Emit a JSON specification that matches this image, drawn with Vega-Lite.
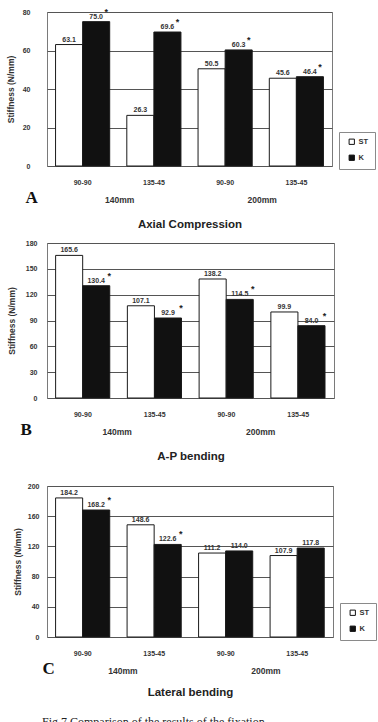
{
  "$schema": "https://vega.github.io/schema/vega-lite/v6.json",
  "background": "white",
  "padding": {"left": 5, "top": 7, "right": 0, "bottom": 0},
  "datasets": {
    "stiffness": [
      {"panel": "A", "len": "140mm", "grp": "140mm 90-90", "series": "ST", "v": 63.1, "sig": ""},
      {"panel": "A", "len": "140mm", "grp": "140mm 90-90", "series": "K", "v": 75.0, "sig": "*"},
      {"panel": "A", "len": "140mm", "grp": "140mm 135-45", "series": "ST", "v": 26.3, "sig": ""},
      {"panel": "A", "len": "140mm", "grp": "140mm 135-45", "series": "K", "v": 69.6, "sig": "*"},
      {"panel": "A", "len": "200mm", "grp": "200mm 90-90", "series": "ST", "v": 50.5, "sig": ""},
      {"panel": "A", "len": "200mm", "grp": "200mm 90-90", "series": "K", "v": 60.3, "sig": "*"},
      {"panel": "A", "len": "200mm", "grp": "200mm 135-45", "series": "ST", "v": 45.6, "sig": ""},
      {"panel": "A", "len": "200mm", "grp": "200mm 135-45", "series": "K", "v": 46.4, "sig": "*"},
      {"panel": "B", "len": "140mm", "grp": "140mm 90-90", "series": "ST", "v": 165.6, "sig": ""},
      {"panel": "B", "len": "140mm", "grp": "140mm 90-90", "series": "K", "v": 130.4, "sig": "*"},
      {"panel": "B", "len": "140mm", "grp": "140mm 135-45", "series": "ST", "v": 107.1, "sig": ""},
      {"panel": "B", "len": "140mm", "grp": "140mm 135-45", "series": "K", "v": 92.9, "sig": "*"},
      {"panel": "B", "len": "200mm", "grp": "200mm 90-90", "series": "ST", "v": 138.2, "sig": ""},
      {"panel": "B", "len": "200mm", "grp": "200mm 90-90", "series": "K", "v": 114.5, "sig": "*"},
      {"panel": "B", "len": "200mm", "grp": "200mm 135-45", "series": "ST", "v": 99.9, "sig": ""},
      {"panel": "B", "len": "200mm", "grp": "200mm 135-45", "series": "K", "v": 84.0, "sig": "*"},
      {"panel": "C", "len": "140mm", "grp": "140mm 90-90", "series": "ST", "v": 184.2, "sig": ""},
      {"panel": "C", "len": "140mm", "grp": "140mm 90-90", "series": "K", "v": 168.2, "sig": "*"},
      {"panel": "C", "len": "140mm", "grp": "140mm 135-45", "series": "ST", "v": 148.6, "sig": ""},
      {"panel": "C", "len": "140mm", "grp": "140mm 135-45", "series": "K", "v": 122.6, "sig": "*"},
      {"panel": "C", "len": "200mm", "grp": "200mm 90-90", "series": "ST", "v": 111.2, "sig": ""},
      {"panel": "C", "len": "200mm", "grp": "200mm 90-90", "series": "K", "v": 114.0, "sig": ""},
      {"panel": "C", "len": "200mm", "grp": "200mm 135-45", "series": "ST", "v": 107.9, "sig": ""},
      {"panel": "C", "len": "200mm", "grp": "200mm 135-45", "series": "K", "v": 117.8, "sig": ""}
    ]
  },
  "config": {
    "font": "Liberation Sans",
    "view": {"stroke": "#7a7a7a", "strokeWidth": 1},
    "axis": {
      "labelFont": "Liberation Sans",
      "labelFontSize": 7,
      "labelFontWeight": "bold",
      "labelColor": "#333333",
      "titleFont": "Liberation Sans",
      "titleColor": "#333333",
      "ticks": false,
      "domain": false,
      "gridColor": "#555555",
      "gridWidth": 1,
      "gridOpacity": 1
    },
    "legend": {
      "orient": "none",
      "strokeColor": "#8a8a8a",
      "padding": 6,
      "symbolOffset": 3,
      "symbolType": "square",
      "symbolSize": 28,
      "symbolStrokeColor": "#111111",
      "symbolStrokeWidth": 1,
      "labelFont": "Liberation Sans",
      "labelFontSize": 7.5,
      "labelFontWeight": "bold",
      "labelColor": "#333333",
      "labelOffset": 3,
      "rowPadding": 6
    }
  },
  "spacing": 18,
  "vconcat": [
    {
      "spacing": 7,
      "vconcat": [
        {
          "width": 285,
          "height": 154,
          "data": {"name": "stiffness"},
          "transform": [{"filter": "datum.panel === 'A'"}],
          "layer": [
            {
              "encoding": {
                "x": {
                  "field": "grp", "type": "nominal",
                  "sort": ["140mm 90-90", "140mm 135-45", "200mm 90-90", "200mm 135-45"],
                  "scale": {"paddingInner": 0.24, "paddingOuter": 0.12},
                  "axis": {
                    "labelExpr": "split(datum.label, ' ')[1]", "labelAngle": 0, "labelPadding": 12,
                    "title": "A", "titleFont": "Liberation Serif", "titleFontSize": 17, "titleFontWeight": "bold",
                    "titleColor": "#111111", "titleAnchor": "start", "titleAlign": "left", "titleX": -22, "titlePadding": 4
                  }
                },
                "xOffset": {"field": "series", "type": "nominal", "sort": ["ST", "K"], "scale": {"paddingInner": 0, "paddingOuter": 0}},
                "y": {
                  "field": "v", "type": "quantitative",
                  "scale": {"domain": [0, 80], "nice": false},
                  "axis": {"values": [0, 20, 40, 60, 80], "title": "Stiffness (N/mm)", "titleFontSize": 8.5, "titlePadding": 7, "labelPadding": 17}
                }
              },
              "layer": [
                {
                  "mark": {"type": "bar", "stroke": "#1a1a1a", "strokeWidth": 1},
                  "encoding": {
                    "fill": {
                      "field": "series", "type": "nominal",
                      "scale": {"domain": ["ST", "K"], "range": ["#ffffff", "#111111"]},
                      "legend": {"title": null, "legendX": 292, "legendY": 120}
                    }
                  }
                },
                {
                  "mark": {"type": "text", "baseline": "bottom", "dy": -2, "fontSize": 7, "fontWeight": "bold", "color": "#333333"},
                  "encoding": {"text": {"field": "v", "type": "quantitative", "format": ".1f"}}
                },
                {
                  "mark": {"type": "text", "baseline": "bottom", "dx": 10, "dy": -5, "fontSize": 9, "fontWeight": "bold", "color": "#222222"},
                  "encoding": {"text": {"field": "sig"}}
                }
              ]
            },
            {
              "mark": {"type": "point", "opacity": 0},
              "encoding": {
                "x": {
                  "field": "len", "type": "nominal", "sort": ["140mm", "200mm"],
                  "axis": {
                    "orient": "bottom", "labelAngle": 0, "labelPadding": 29, "labelOffset": 1, "labelFontSize": 8.5, "grid": false,
                    "title": "Axial Compression", "titleFontSize": 11.5, "titleFontWeight": "bold", "titleColor": "#222222", "titlePadding": 15
                  }
                }
              }
            }
          ],
          "resolve": {"scale": {"x": "independent"}}
        },
        {
          "width": 287,
          "height": 155,
          "data": {"name": "stiffness"},
          "transform": [{"filter": "datum.panel === 'B'"}],
          "layer": [
            {
              "encoding": {
                "x": {
                  "field": "grp", "type": "nominal",
                  "sort": ["140mm 90-90", "140mm 135-45", "200mm 90-90", "200mm 135-45"],
                  "scale": {"paddingInner": 0.24, "paddingOuter": 0.12},
                  "axis": {
                    "labelExpr": "split(datum.label, ' ')[1]", "labelAngle": 0, "labelPadding": 12,
                    "title": "B", "titleFont": "Liberation Serif", "titleFontSize": 17, "titleFontWeight": "bold",
                    "titleColor": "#111111", "titleAnchor": "start", "titleAlign": "left", "titleX": -27, "titlePadding": 4
                  }
                },
                "xOffset": {"field": "series", "type": "nominal", "sort": ["ST", "K"], "scale": {"paddingInner": 0, "paddingOuter": 0}},
                "y": {
                  "field": "v", "type": "quantitative",
                  "scale": {"domain": [0, 180], "nice": false},
                  "axis": {"values": [0, 30, 60, 90, 120, 150, 180], "title": "Stiffness (N/mm)", "titleFontSize": 8.5, "titlePadding": 9, "labelPadding": 10}
                }
              },
              "layer": [
                {
                  "mark": {"type": "bar", "stroke": "#1a1a1a", "strokeWidth": 1},
                  "encoding": {
                    "fill": {
                      "field": "series", "type": "nominal",
                      "scale": {"domain": ["ST", "K"], "range": ["#ffffff", "#111111"]},
                      "legend": {"title": null, "legendX": 293, "legendY": 119}
                    }
                  }
                },
                {
                  "mark": {"type": "text", "baseline": "bottom", "dy": -2, "fontSize": 7, "fontWeight": "bold", "color": "#333333"},
                  "encoding": {"text": {"field": "v", "type": "quantitative", "format": ".1f"}}
                },
                {
                  "mark": {"type": "text", "baseline": "bottom", "dx": 13, "dy": -5, "fontSize": 9, "fontWeight": "bold", "color": "#222222"},
                  "encoding": {"text": {"field": "sig"}}
                }
              ]
            },
            {
              "mark": {"type": "point", "opacity": 0},
              "encoding": {
                "x": {
                  "field": "len", "type": "nominal", "sort": ["140mm", "200mm"],
                  "axis": {
                    "orient": "bottom", "labelAngle": 0, "labelPadding": 29, "labelOffset": -2, "labelFontSize": 8.5, "grid": false,
                    "title": "A-P bending", "titleFontSize": 11.5, "titleFontWeight": "bold", "titleColor": "#222222", "titlePadding": 15
                  }
                }
              }
            }
          ],
          "resolve": {"scale": {"x": "independent"}}
        }
      ]
    },
    {
      "width": 286,
      "height": 151,
      "data": {"name": "stiffness"},
      "transform": [{"filter": "datum.panel === 'C'"}],
      "title": {
        "text": "Fig.7  Comparison of the results of the fixation",
        "orient": "bottom", "anchor": "start", "frame": "group", "dx": -5, "offset": 19,
        "font": "Liberation Serif", "fontSize": 12, "fontWeight": "normal", "color": "#222222"
      },
      "layer": [
        {
          "encoding": {
            "x": {
              "field": "grp", "type": "nominal",
              "sort": ["140mm 90-90", "140mm 135-45", "200mm 90-90", "200mm 135-45"],
              "scale": {"paddingInner": 0.24, "paddingOuter": 0.12},
              "axis": {
                "labelExpr": "split(datum.label, ' ')[1]", "labelAngle": 0, "labelPadding": 12,
                "title": "C", "titleFont": "Liberation Serif", "titleFontSize": 17, "titleFontWeight": "bold",
                "titleColor": "#111111", "titleAnchor": "start", "titleAlign": "left", "titleX": -5, "titlePadding": 4
              }
            },
            "xOffset": {"field": "series", "type": "nominal", "sort": ["ST", "K"], "scale": {"paddingInner": 0, "paddingOuter": 0}},
            "y": {
              "field": "v", "type": "quantitative",
              "scale": {"domain": [0, 200], "nice": false},
              "axis": {"values": [0, 40, 80, 120, 160, 200], "title": "Stiffness (N/mm)", "titleFontSize": 8.5, "titlePadding": 5, "labelPadding": 8}
            }
          },
          "layer": [
            {
              "mark": {"type": "bar", "stroke": "#1a1a1a", "strokeWidth": 1},
              "encoding": {
                "fill": {
                  "field": "series", "type": "nominal",
                  "scale": {"domain": ["ST", "K"], "range": ["#ffffff", "#111111"]},
                  "legend": {"title": null, "legendX": 293, "legendY": 117}
                }
              }
            },
            {
              "mark": {"type": "text", "baseline": "bottom", "dy": -2, "fontSize": 7, "fontWeight": "bold", "color": "#333333"},
              "encoding": {"text": {"field": "v", "type": "quantitative", "format": ".1f"}}
            },
            {
              "mark": {"type": "text", "baseline": "bottom", "dx": 13, "dy": -5, "fontSize": 9, "fontWeight": "bold", "color": "#222222"},
              "encoding": {"text": {"field": "sig"}}
            }
          ]
        },
        {
          "mark": {"type": "point", "opacity": 0},
          "encoding": {
            "x": {
              "field": "len", "type": "nominal", "sort": ["140mm", "200mm"],
              "axis": {
                "orient": "bottom", "labelAngle": 0, "labelPadding": 29, "labelOffset": 4, "labelFontSize": 8.5, "grid": false,
                "title": "Lateral bending", "titleFontSize": 11.5, "titleFontWeight": "bold", "titleColor": "#222222", "titlePadding": 12
              }
            }
          }
        }
      ],
      "resolve": {"scale": {"x": "independent"}}
    }
  ],
  "resolve": {
    "scale": {"y": "independent", "fill": "independent"},
    "legend": {"fill": "independent"}
  }
}
